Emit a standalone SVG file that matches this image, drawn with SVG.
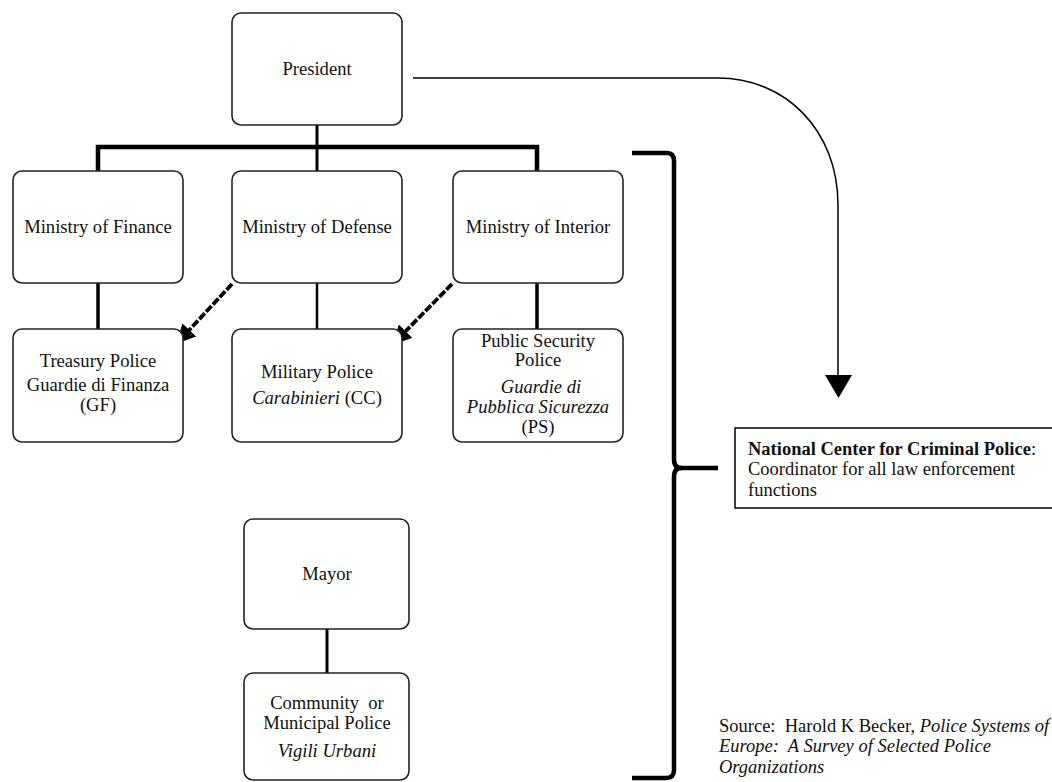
<svg xmlns="http://www.w3.org/2000/svg" width="1052" height="782" viewBox="0 0 1052 782">
<defs>
<style>
.box{fill:#fff;stroke:#222;stroke-width:1.6}
.t{font-family:"Liberation Serif","Times New Roman",serif;font-size:18.6px;fill:#111;text-anchor:middle}
.tl{font-family:"Liberation Serif","Times New Roman",serif;font-size:18.5px;fill:#111}
.i{font-style:italic}
.b{font-weight:bold}
.conn{stroke:#000;fill:none}
</style>
<marker id="ah" viewBox="0 0 10 10" refX="8" refY="5" markerWidth="5" markerHeight="5" orient="auto" markerUnits="strokeWidth">
<path d="M0 0 L10 5 L0 10 z" fill="#000"/>
</marker>
</defs>
<rect width="1052" height="782" fill="#fff"/>

<g id="connectors">
<path class="conn" stroke-width="3" d="M317 125 L317 147"/>
<path class="conn" stroke-width="4.5" d="M98 171 L98 147 L537 147 L537 171"/>
<path class="conn" stroke-width="3" d="M317 147 L317 171"/>
<path class="conn" stroke-width="3.5" d="M98 283 L98 329"/>
<path class="conn" stroke-width="2.5" d="M317 283 L317 329"/>
<path class="conn" stroke-width="3.5" d="M537 283 L537 329"/>
<path class="conn" stroke-width="3" d="M327 629 L327 673"/>
<path class="conn" stroke-width="3.8" stroke-dasharray="8 2" marker-end="url(#ah)" d="M232 284 L179 341"/>
<path class="conn" stroke-width="3.8" stroke-dasharray="8 2" marker-end="url(#ah)" d="M452 284 L395 342"/>
<path class="conn" stroke-width="1.5" d="M413 78 L718 78 C785 78 838 130 838 205 L838 378"/>
<polygon points="825,375 852,375 838.5,398" fill="#000"/>
<path class="conn" stroke-width="4.5" stroke-linejoin="round" d="M632 153 L667 153 Q674 153 674 161 L674 459 Q674 468 681 468 Q674 468 674 477 L674 770 Q674 778 666 778 L632 778"/>
<path class="conn" stroke-width="4.5" d="M680 468 L718 468"/>
</g>

<g id="president">
<rect class="box" x="232" y="13" width="170" height="112" rx="9"/>
<text class="t" x="317" y="75">President</text>
</g>
<g id="ministry-finance">
<rect class="box" x="13" y="171" width="170" height="112" rx="9"/>
<text class="t" x="98" y="233">Ministry of Finance</text>
</g>
<g id="ministry-defense">
<rect class="box" x="232" y="171" width="170" height="112" rx="9"/>
<text class="t" x="317" y="233">Ministry of Defense</text>
</g>
<g id="ministry-interior">
<rect class="box" x="453" y="171" width="170" height="112" rx="9"/>
<text class="t" x="538" y="233">Ministry of Interior</text>
</g>
<g id="treasury-police">
<rect class="box" x="13" y="329" width="170" height="113" rx="9"/>
<text class="t" x="98" y="367">Treasury Police</text>
<text class="t" x="98" y="391">Guardie di Finanza</text>
<text class="t" x="98" y="411">(GF)</text>
</g>
<g id="military-police">
<rect class="box" x="232" y="329" width="170" height="113" rx="9"/>
<text class="t" x="317" y="378">Military Police</text>
<text class="t" x="317" y="404"><tspan class="i">Carabinieri</tspan> (CC)</text>
</g>
<g id="public-security-police">
<rect class="box" x="453" y="329" width="170" height="113" rx="9"/>
<text class="t" x="538" y="347">Public Security</text>
<text class="t" x="538" y="366">Police</text>
<text class="t i" x="541" y="393">Guardie di</text>
<text class="t i" x="538" y="413">Pubblica Sicurezza</text>
<text class="t" x="538" y="433">(PS)</text>
</g>
<g id="mayor">
<rect class="box" x="244" y="519" width="165" height="110" rx="9"/>
<text class="t" x="327" y="580">Mayor</text>
</g>
<g id="community-police">
<rect class="box" x="244" y="673" width="165" height="107" rx="9"/>
<text class="t" x="327" y="709" xml:space="preserve">Community  or</text>
<text class="t" x="327" y="729">Municipal Police</text>
<text class="t i" x="327" y="757">Vigili Urbani</text>
</g>
<g id="national-center">
<rect x="735" y="428" width="330" height="80" fill="#fff" stroke="#111" stroke-width="1.6"/>
<text class="tl" x="748" y="455"><tspan class="b">National Center for Criminal Police</tspan>:</text>
<text class="tl" x="748" y="475">Coordinator for all law enforcement</text>
<text class="tl" x="748" y="496">functions</text>
</g>
<g id="source">
<text class="tl" x="719" y="732" xml:space="preserve">Source:  Harold K Becker, <tspan class="i">Police Systems of</tspan></text>
<text class="tl i" x="719" y="752" xml:space="preserve">Europe:  A Survey of Selected Police</text>
<text class="tl i" x="719" y="773">Organizations</text>
</g>
</svg>
